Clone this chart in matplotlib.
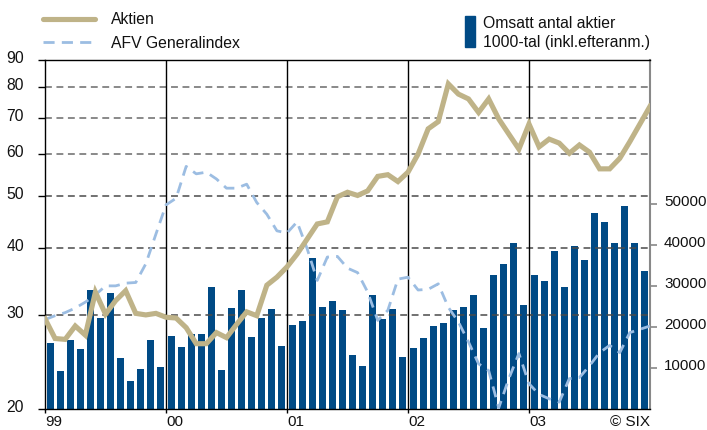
import matplotlib
matplotlib.use("Agg")
import matplotlib.pyplot as plt
import matplotlib.transforms as mtransforms
from matplotlib.lines import Line2D
from matplotlib.patches import Rectangle
import numpy as np

plt.rcParams['font.family'] = ['Liberation Sans', 'DejaVu Sans']

# ---- data ----
aktien = [29.5, 27.1, 27.0, 28.6, 27.5, 33.1, 30.1, 31.9, 33.3, 30.2, 30.0, 30.2,
          29.7, 29.6, 28.4, 26.5, 26.5, 27.8, 27.2, 28.8, 30.4, 29.9, 34.1, 35.3,
          36.9, 39.0, 41.6, 44.4, 44.8, 49.9, 50.9, 50.2, 51.2, 54.5, 54.9, 53.3,
          55.5, 60.0, 66.9, 69.0, 81.2, 77.7, 76.1, 71.8, 76.1, 69.8, 65.4, 61.3,
          68.3, 61.9, 64.0, 62.9, 60.2, 62.4, 60.5, 56.3, 56.3, 58.9, 63.3, 68.3,
          73.7]
afv = [29.4, 29.9, 30.3, 30.9, 31.7, 32.7, 34.0, 34.0, 34.4, 34.5, 37.4, 42.5,
       48.2, 49.6, 56.9, 55.1, 55.5, 53.9, 51.8, 51.8, 52.7, 48.7, 46.3, 43.1,
       42.7, 44.8, 39.9, 34.8, 38.5, 38.6, 36.7, 36.0, 33.1, 29.3, 30.6, 35.0,
       35.3, 33.4, 33.5, 34.3, 31.0, 29.1, 26.7, 24.3, 23.6, 20.1, 22.8, 25.4,
       22.3, 21.3, 20.9, 20.6, 22.8, 22.9, 24.1, 25.5, 26.3, 25.5, 27.8, 28.2,
       28.6]
volume = [16100, 9300, 16800, 14600, 29000, 22200, 28300, 12400, 6800, 9800, 16800, 10200,
          17800, 15100, 18300, 18300, 29800, 9500, 24600, 29000, 17600, 22200, 24400, 15400,
          20500, 21500, 36800, 24900, 26300, 24100, 13200, 10500, 27800, 22000, 24400, 12700,
          14900, 17300, 20200, 21000, 24100, 24900, 27800, 19800, 32700, 35400, 40500, 25400,
          32700, 31200, 38500, 29800, 39800, 36300, 47800, 45600, 40500, 49500, 40500, 33700]
year_labels = ['99', '00', '01', '02', '03']
left_ticks = [20, 30, 40, 50, 60, 70, 80, 90]
left_grid = [30, 40, 50, 60, 70, 80]
right_ticks = [10000, 20000, 30000, 40000, 50000]

W, H = 707, 431
fig = plt.figure(figsize=(W / 100, H / 100), dpi=100)
L, R, T, B = 45, 650, 61, 410
rect = [L / W, 1 - B / H, (R - L) / W, (B - T) / H]

bar_color = '#004A85'
tan = '#BFB388'
blue_l = '#9CBDE2'
grid_c = '#4a4a4a'
FS = 11.3

# bars axis (behind)
axb = fig.add_axes(rect)
axb.bar(np.arange(len(volume)) + 0.5, volume, width=0.7, color=bar_color, zorder=2)
axb.set_xlim(0, 60)
axb.set_ylim(0, 85100)
axb.yaxis.tick_right()
axb.set_yticks(right_ticks)
axb.set_yticklabels([str(v) for v in right_ticks])
axb.tick_params(axis='y', direction='out', length=5, width=1.2, color='#888888',
                labelsize=10.9, pad=5, labelcolor='#111111')
axb.set_xticks([])
for s in ['left', 'top', 'bottom']:
    axb.spines[s].set_visible(False)
axb.spines['right'].set_color('#888888')
axb.spines['right'].set_linewidth(1.5)

# lines axis (front)
ax = fig.add_axes(rect)
ax.patch.set_visible(False)
ax.set_yscale('log')
ax.set_ylim(20, 90)
ax.set_xlim(0, 60)
ax.set_yticks(left_ticks)
ax.set_yticklabels([str(v) for v in left_ticks])
ax.yaxis.set_minor_locator(matplotlib.ticker.NullLocator())
ax.tick_params(axis='y', direction='out', length=5, width=1.0, color='black',
               labelsize=FS, pad=10, labelcolor='#111111')
ax.set_xticks([0, 12, 24, 36, 48])
ax.set_xticklabels(year_labels, ha='left')
ax.tick_params(axis='x', direction='out', length=3, width=1.0, color='black',
               labelsize=11, pad=0.5, labelcolor='#111111')
ax.spines['right'].set_visible(False)
for s in ['left', 'top', 'bottom']:
    ax.spines[s].set_color('black')
    ax.spines[s].set_linewidth(1.0)

for g in left_grid:
    c = '#6a6a6a' if g >= 60 else grid_c
    ax.axhline(g, color=c, lw=1.1, ls=(0, (4.5, 3)), zorder=1.5)
for xv in [12, 24, 36, 48]:
    ax.axvline(xv, color='black', lw=1.0, zorder=1.6)

xs = np.arange(len(aktien))
ax.plot(xs, afv, color=blue_l, lw=2.0, ls=(0, (4, 2.6)), zorder=3)
ax.plot(xs, aktien, color=tan, lw=3.7, zorder=4, solid_joinstyle='miter')

# shift y tick labels up a few pixels
off = mtransforms.ScaledTranslation(0, 4 / 100, fig.dpi_scale_trans)
for t in ax.yaxis.get_major_ticks():
    t.label1.set_transform(t.label1.get_transform() + off)
for t in axb.yaxis.get_major_ticks():
    t.label2.set_transform(t.label2.get_transform() + off)

# legend (manual)
def fx(x):
    return x / W

def fy(y):
    return 1 - y / H

fig.add_artist(Line2D([fx(43), fx(95)], [fy(20), fy(20)], color=tan, lw=3.7,
                      solid_capstyle='round'))
fig.add_artist(Line2D([fx(43), fx(94)], [fy(43), fy(43)], color=blue_l, lw=2.0,
                      ls=(0, (4, 2.6))))
fig.text(fx(111), fy(19), 'Aktien', fontsize=FS, va='center', ha='left', color='#111111')
fig.text(fx(111), fy(43), 'AFV Generalindex', fontsize=FS, va='center', ha='left',
         color='#111111')
fig.add_artist(Rectangle((fx(465), fy(48)), fx(10), (31) / H, transform=fig.transFigure,
                         color=bar_color))
fig.text(fx(483), fy(23), 'Omsatt antal aktier', fontsize=FS, va='center', ha='left',
         color='#111111')
fig.text(fx(483), fy(43), '1000-tal (inkl.efteranm.)', fontsize=FS, va='center',
         ha='left', color='#111111')
fig.text(fx(650), fy(422), '© SIX', fontsize=11, va='center', ha='right', color='#111111')

fig.savefig('out.png', dpi=100)
